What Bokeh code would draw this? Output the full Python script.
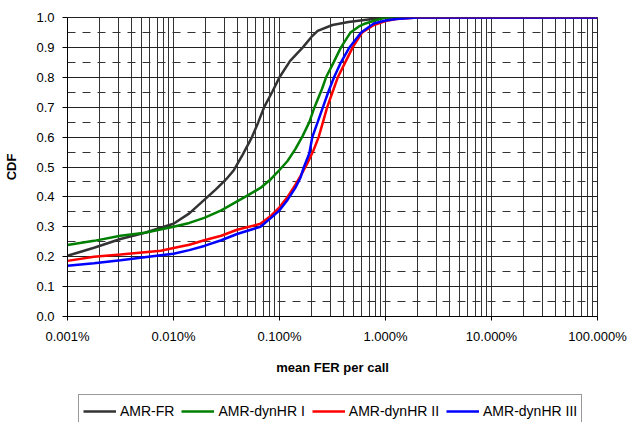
from bokeh.plotting import figure
from bokeh.layouts import column
from bokeh.models import (ColumnDataSource, LogTicker, SingleIntervalTicker, NumeralTickFormatter,
                          Legend, LegendItem, Range1d)
from bokeh.embed import file_html
from bokeh.resources import INLINE

# mean FER per call (in percent) and CDF values
fr_x = [0.001, 0.00178, 0.00316, 0.00537, 0.010, 0.0141, 0.0195, 0.0251, 0.0316, 0.0372, 0.0447,
        0.055, 0.0631, 0.0716, 0.0851, 0.100, 0.126, 0.166, 0.200, 0.229, 0.316, 0.447, 0.631, 1.0, 100]
fr_y = [0.203, 0.23, 0.259, 0.28, 0.31, 0.345, 0.39, 0.425, 0.46, 0.49, 0.54,
        0.60, 0.65, 0.70, 0.75, 0.80, 0.855, 0.90, 0.935, 0.955, 0.975, 0.985, 0.992, 1.0, 1.0]

hr1_x = [0.001, 0.00178, 0.00316, 0.00537, 0.010, 0.0141, 0.0195, 0.0282, 0.0398, 0.0501, 0.0661,
         0.0832, 0.100, 0.119, 0.141, 0.166, 0.191, 0.214, 0.251, 0.275, 0.324, 0.38, 0.468, 0.562,
         0.646, 0.794, 1.0, 100]
hr1_y = [0.239, 0.253, 0.27, 0.28, 0.30, 0.313, 0.33, 0.355, 0.385, 0.405, 0.43,
         0.46, 0.49, 0.52, 0.56, 0.605, 0.65, 0.70, 0.76, 0.80, 0.85, 0.90, 0.95, 0.97,
         0.98, 0.99, 1.0, 1.0]

hr2_x = [0.001, 0.00178, 0.00316, 0.00759, 0.010, 0.0141, 0.0195, 0.0282, 0.0398, 0.0661, 0.0832,
         0.100, 0.119, 0.141, 0.158, 0.182, 0.209, 0.234, 0.257, 0.282, 0.316, 0.355, 0.417, 0.49,
         0.603, 0.776, 1.0, 1.26, 2.0, 100]
hr2_y = [0.186, 0.20, 0.207, 0.22, 0.229, 0.24, 0.255, 0.27, 0.29, 0.31, 0.337,
         0.365, 0.40, 0.44, 0.47, 0.51, 0.555, 0.60, 0.65, 0.70, 0.75, 0.80, 0.85, 0.90,
         0.95, 0.975, 0.988, 0.995, 1.0, 1.0]

hr3_x = [0.001, 0.00178, 0.00316, 0.00759, 0.010, 0.0141, 0.0195, 0.0282, 0.0398, 0.0661, 0.0832,
         0.100, 0.119, 0.141, 0.158, 0.170, 0.191, 0.204, 0.229, 0.257, 0.288, 0.327, 0.38, 0.457,
         0.589, 0.776, 1.0, 1.26, 2.0, 100]
hr3_y = [0.17, 0.178, 0.188, 0.205, 0.21, 0.222, 0.236, 0.255, 0.276, 0.30, 0.33,
         0.355, 0.39, 0.43, 0.465, 0.50, 0.545, 0.60, 0.65, 0.70, 0.75, 0.80, 0.85, 0.90,
         0.95, 0.98, 0.99, 0.995, 1.0, 1.0]

series = [
    ("AMR-FR", fr_x, fr_y, "#333333"),
    ("AMR-dynHR I", hr1_x, hr1_y, "#008000"),
    ("AMR-dynHR II", hr2_x, hr2_y, "#ff0000"),
    ("AMR-dynHR III", hr3_x, hr3_y, "#0000ff"),
]

FONT = "Liberation Sans"

p = figure(frame_width=530, frame_height=299, x_axis_type="log", output_backend="svg",
           toolbar_location=None, x_range=Range1d(1e-5, 1), y_range=Range1d(0, 1),
           min_border_left=67, min_border_right=32, min_border_top=17, min_border_bottom=68)
p.background_fill_color = "white"
p.border_fill_color = "white"
p.outline_line_color = "#222222"

# axes
p.xaxis.ticker = LogTicker(num_minor_ticks=10)
p.xaxis.formatter = NumeralTickFormatter(format="0.000%")
p.yaxis.ticker = SingleIntervalTicker(interval=0.1, num_minor_ticks=2)
p.yaxis.formatter = NumeralTickFormatter(format="0.0")
for ax in (p.xaxis[0], p.yaxis[0]):
    ax.major_label_text_font = FONT
    ax.major_label_text_font_size = "13px"
    ax.major_label_text_color = "black"
    ax.axis_label_text_font = FONT
    ax.axis_label_text_font_size = "13px"
    ax.axis_label_text_font_style = "bold"
    ax.axis_label_text_color = "black"
    ax.axis_line_color = "black"
    ax.major_tick_line_color = "black"
    ax.major_tick_in = 0
    ax.minor_tick_line_color = None
p.xaxis.major_tick_out = 4
p.xaxis.major_label_standoff = 8
p.xaxis.axis_label = "mean FER per call"
p.xaxis.axis_label_standoff = 13
p.yaxis.major_tick_out = 5
p.yaxis.major_label_standoff = 8
p.yaxis.axis_label = "CDF"
p.yaxis.axis_label_standoff = 14

# grids
p.xgrid.grid_line_color = "#333333"
p.xgrid.minor_grid_line_color = "#333333"
p.ygrid.grid_line_color = "#222222"
p.ygrid.minor_grid_line_color = "#333333"
p.ygrid.minor_grid_line_dash = "8 7"

for name, xs, ys, color in series:
    src = ColumnDataSource(dict(x=[v / 100.0 for v in xs], y=ys))
    p.line("x", "y", source=src, line_color=color, line_width=2.5)

# legend strip below the chart (its own small figure; the same series are drawn
# there out of view so that the legend shows their line styles)
lg = figure(width=629, height=38, output_backend="svg", toolbar_location=None,
            x_axis_location=None, y_axis_location=None,
            x_range=Range1d(0, 1), y_range=Range1d(10, 11),
            min_border_left=0, min_border_right=0, min_border_top=0, min_border_bottom=0)
lg.outline_line_color = None
lg.xgrid.visible = False
lg.ygrid.visible = False
lg.background_fill_color = "white"
lg.border_fill_color = "white"

items = []
for name, xs, ys, color in series:
    src = ColumnDataSource(dict(x=[v / 100.0 for v in xs], y=ys))
    r = lg.line("x", "y", source=src, line_color=color, line_width=2.5)
    items.append(LegendItem(label=name, renderers=[r]))

legend = Legend(items=items, orientation="horizontal", location=(11, -6),
                label_text_font=FONT, label_text_font_size="14px", label_text_color="black",
                glyph_width=33, glyph_height=24, label_height=24, label_standoff=4, spacing=7,
                padding=4, margin=0, border_line_color="#333333", border_line_width=1,
                background_fill_color="white", background_fill_alpha=1.0)
lg.add_layout(legend, "center")

layout = column(p, lg, spacing=0)

open("out.html", "w").write(file_html(layout, INLINE))
